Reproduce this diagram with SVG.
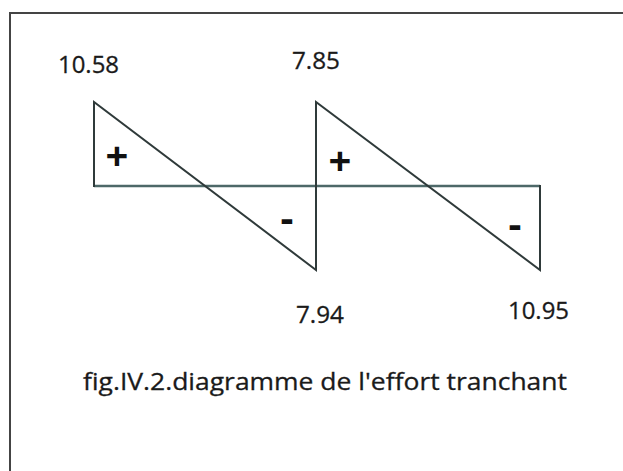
<svg xmlns="http://www.w3.org/2000/svg" width="623" height="471" viewBox="0 0 623 471">
<style>
.lbl{font-family:"Open Sans","Liberation Sans",sans-serif;font-size:24px;fill:#1a1a1a;stroke:#1a1a1a;stroke-width:0.3}
.sign{font-family:"Open Sans","Liberation Sans",sans-serif;font-weight:bold;fill:#111}
.ln{stroke:#2f3a3a;stroke-width:2;fill:none;stroke-linecap:square}
</style>
<rect width="623" height="471" fill="#ffffff"/>
<path d="M10,471 V13 H623" fill="none" stroke="#444" stroke-width="2"/>
<g id="connectors">
<line x1="94" y1="186" x2="540" y2="186" stroke="#4d6868" stroke-width="2.5"/>
<path class="ln" d="M94,186 V102 L316,270 V102 L540,270 V186"/>
</g>
<g id="label-10-58"><text class="lbl" x="58" y="73" textLength="61" lengthAdjust="spacingAndGlyphs">10.58</text></g>
<g id="label-7-85"><text class="lbl" x="292" y="69" textLength="48" lengthAdjust="spacingAndGlyphs">7.85</text></g>
<g id="label-7-94"><text class="lbl" x="296" y="323" textLength="48" lengthAdjust="spacingAndGlyphs">7.94</text></g>
<g id="label-10-95"><text class="lbl" x="508" y="319" textLength="61" lengthAdjust="spacingAndGlyphs">10.95</text></g>
<g id="plus-1"><text class="sign" x="117" y="170" font-size="40" text-anchor="middle">+</text></g>
<g id="plus-2"><text class="sign" x="340" y="175" font-size="40" text-anchor="middle">+</text></g>
<g id="minus-1"><text class="sign" x="287" y="232" font-size="40" text-anchor="middle">-</text></g>
<g id="minus-2"><text class="sign" x="515" y="238" font-size="40" text-anchor="middle">-</text></g>
<g id="caption"><text class="lbl" x="83" y="390" textLength="484" lengthAdjust="spacingAndGlyphs">fig.IV.2.diagramme de l'effort tranchant</text></g>
</svg>
